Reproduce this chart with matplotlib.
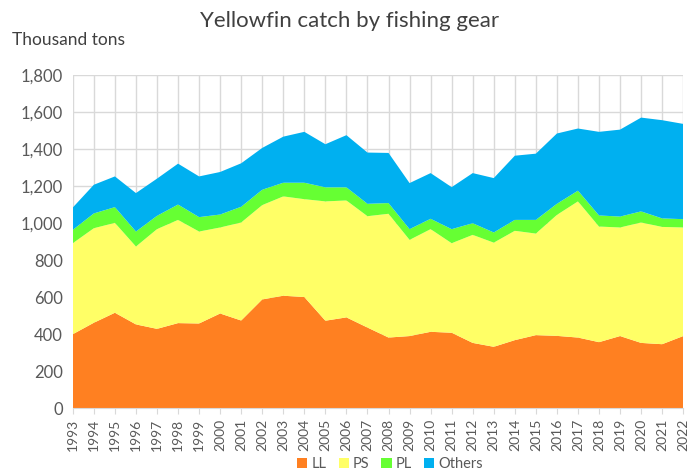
import matplotlib
matplotlib.use("Agg")
import matplotlib.pyplot as plt
from matplotlib.ticker import FuncFormatter, MultipleLocator

years = list(range(1993, 2023))
ll = [399, 461, 515, 452, 428, 459, 457, 511, 473, 587, 607, 600, 472, 490, 435,
      381, 389, 412, 407, 352, 331, 367, 394, 390, 381, 356, 389, 352, 345, 389]
ps = [492, 511, 486, 421, 539, 558, 497, 465, 530, 510, 537, 529, 645, 632, 602,
      669, 520, 555, 484, 584, 563, 591, 549, 654, 736, 625, 587, 651, 634, 587]
pl = [72, 80, 85, 81, 72, 83, 78, 70, 85, 83, 74, 89, 76, 71, 67,
      58, 58, 56, 76, 63, 55, 59, 74, 60, 58, 60, 59, 60, 46, 45]
others = [121, 155, 166, 208, 201, 221, 220, 230, 235, 226, 249, 275, 233, 282, 277,
          271, 249, 247, 227, 271, 294, 347, 358, 380, 336, 452, 470, 507, 531, 515]

labels = ["LL", "PS", "PL", "Others"]
colors = ["#FF8021", "#FFFF66", "#66FF33", "#00B0F0"]

plt.rcParams['font.family'] = ['Lato', 'DejaVu Sans']
grey = "#595959"

fig = plt.figure(figsize=(7, 4.75), dpi=100)
ax = fig.add_axes([0.104, 0.141, 0.872, 0.701])

ax.stackplot(years, ll, ps, pl, others, colors=colors, labels=labels, lw=0, zorder=2)

ax.set_xlim(1993, 2022)
ax.set_ylim(0, 1800)
ax.yaxis.set_major_locator(MultipleLocator(200))
ax.yaxis.set_major_formatter(FuncFormatter(lambda v, p: "{:,.0f}".format(v)))
ax.set_xticks(years)
ax.set_xticklabels([str(y) for y in years], rotation=90)
ax.tick_params(axis='x', labelsize=10, colors=grey, length=4, color="#d9d9d9")
ax.tick_params(axis='y', labelsize=12, colors=grey, length=0, pad=7)
ax.grid(True, color="#d9d9d9", lw=1, zorder=0)
ax.set_axisbelow(True)
for s in ax.spines.values():
    s.set_visible(False)
ax.spines['bottom'].set_visible(True)
ax.spines['bottom'].set_color("#d9d9d9")

fig.text(0.5, 0.955, "Yellowfin catch by fishing gear", ha='center', va='center',
         fontsize=16, color="#404040")
fig.text(0.017, 0.915, "Thousand tons", ha='left', va='center', fontsize=12.5, color="#404040")

ax.legend(loc='lower center', bbox_to_anchor=(0.52, -0.23), ncol=4, frameon=False,
          fontsize=10.5, handlelength=0.7, handleheight=0.7, handletextpad=0.3,
          columnspacing=0.8, labelcolor=grey, bbox_transform=ax.transAxes)

fig.savefig("out.png", dpi=100)
